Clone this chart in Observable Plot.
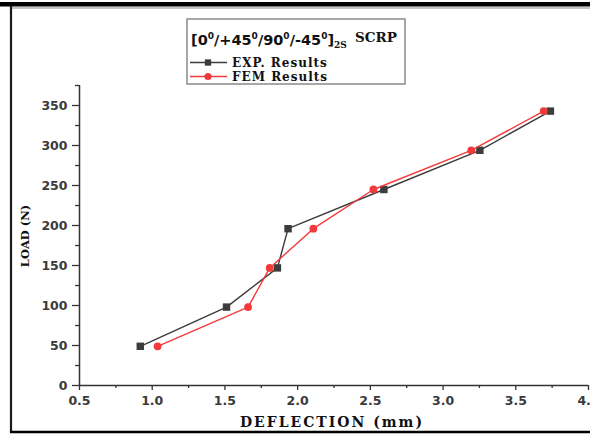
<!DOCTYPE html>
<html><head><meta charset="utf-8">
<script src="https://cdn.jsdelivr.net/npm/d3@7"></script>
<script src="https://cdn.jsdelivr.net/npm/@observablehq/plot@0.6"></script>
<style>
body{margin:0;background:#fff}
#chart{position:relative;width:590px;height:436px}
</style>
</head><body><div id="chart"></div>
<script>
// ---- data ----
const loads = [49, 98, 147, 196, 245, 294, 343];
const expDeflection = [0.918, 1.511, 1.861, 1.934, 2.593, 3.253, 3.738];
const femDeflection = [1.037, 1.659, 1.808, 2.108, 2.521, 3.194, 3.692];
const seriesNames = ["EXP. Results", "FEM Results"];
const xTicks = [0.5, 1.0, 1.5, 2.0, 2.5, 3.0, 3.5, 4.0];
const xMinorTicks = [0.75, 1.25, 1.75, 2.25, 2.75, 3.25, 3.75];
const yTicks = [0, 50, 100, 150, 200, 250, 300, 350];
const yMinorTicks = [25, 75, 125, 175, 225, 275, 325, 375];
const xLabel = "DEFLECTION (mm)";
const yLabel = "LOAD (N)";

const expData = loads.map((l, i) => ({x: expDeflection[i], y: l}));
const femData = loads.map((l, i) => ({x: femDeflection[i], y: l}));

const EXP_COLOR = "#3c3c3c";
const FEM_COLOR = "#f23a3a";
const AXIS_COLOR = "#333";

const tickFont = {fontSize: 12.5, fontFamily: "DejaVu Sans", fontWeight: "bold"};

const svg = Plot.plot({
  width: 590, height: 436,
  marginLeft: 79, marginRight: 2, marginTop: 85, marginBottom: 51,
  style: {background: "#fff", color: AXIS_COLOR, fontFamily: "DejaVu Sans"},
  x: {domain: [0.5, 4.0]},
  y: {domain: [0, 375]},
  marks: [
    Plot.axisX(xTicks, {tickSize: 5, tickPadding: 6, tickFormat: d3.format(".1f"), label: null, stroke: AXIS_COLOR, strokeWidth: 1.3, fill: "#3a3a3a", ...tickFont}),
    Plot.axisX(xMinorTicks, {tickSize: 3, tickFormat: () => "", label: null, stroke: AXIS_COLOR, strokeWidth: 1.3}),
    Plot.axisY(yTicks, {tickSize: 7, tickPadding: 5, label: null, stroke: AXIS_COLOR, strokeWidth: 1.3, fill: "#3a3a3a", ...tickFont}),
    Plot.axisY(yMinorTicks, {tickSize: 4, tickFormat: () => "", label: null, stroke: AXIS_COLOR, strokeWidth: 1.3}),
    Plot.ruleX([0.5], {stroke: AXIS_COLOR, strokeWidth: 1.5}),
    Plot.ruleY([0], {stroke: AXIS_COLOR, strokeWidth: 1.5}),
    Plot.line(expData, {x: "x", y: "y", stroke: EXP_COLOR, strokeWidth: 1.4}),
    Plot.dot(expData, {x: "x", y: "y", symbol: "square", r: 4.2, fill: EXP_COLOR, stroke: "none"}),
    Plot.line(femData, {x: "x", y: "y", stroke: FEM_COLOR, strokeWidth: 1.4}),
    Plot.dot(femData, {x: "x", y: "y", symbol: "circle", r: 3.9, fill: FEM_COLOR, stroke: "none"})
  ]
});
document.getElementById("chart").appendChild(svg);

// ---- decorations: frame, legend, axis titles ----
const s = d3.select(svg);
s.append("rect").attr("x", 0).attr("y", 2).attr("width", 590).attr("height", 4.5).attr("fill", "#000");
s.append("line").attr("x1", 11).attr("x2", 590).attr("y1", 8).attr("y2", 8).attr("stroke", "#888").attr("stroke-width", 1.2);
s.append("line").attr("x1", 11).attr("x2", 11).attr("y1", 6).attr("y2", 433).attr("stroke", "#1a1a1a").attr("stroke-width", 2.2);
s.append("line").attr("x1", 10).attr("x2", 590).attr("y1", 432).attr("y2", 432).attr("stroke", "#000").attr("stroke-width", 2.5);

// axis titles
s.append("text").attr("x", 332).attr("y", 427).attr("text-anchor", "middle")
  .attr("font-family", "DejaVu Serif").attr("font-weight", "bold").attr("font-size", 14)
  .attr("letter-spacing", 2).attr("fill", "#111").text(xLabel);
s.append("text").attr("transform", "translate(29,236) rotate(-90)").attr("text-anchor", "middle")
  .attr("font-family", "DejaVu Serif").attr("font-weight", "bold").attr("font-size", 11.5)
  .attr("fill", "#111").text(yLabel);

// legend box
s.append("rect").attr("x", 187).attr("y", 19).attr("width", 218).attr("height", 65)
  .attr("fill", "#fff").attr("stroke", "#8a8a8a").attr("stroke-width", 1.5);
const title = s.append("text").attr("x", 191).attr("y", 45).attr("fill", "#111")
  .attr("text-anchor", "start")
  .attr("font-family", "DejaVu Sans").attr("font-weight", "bold").attr("font-size", 14.5);
const parts = ["[0", "/+45", "/90", "/-45"];
parts.forEach((t, i) => {
  title.append("tspan").attr("dy", i === 0 ? 0 : 6).text(t);
  title.append("tspan").attr("font-size", 9).attr("dy", -6).text("0");
});
title.append("tspan").attr("dy", 6).text("]");
title.append("tspan").attr("font-family", "DejaVu Serif").attr("font-size", 9).attr("dy", 3).text("2S");
s.append("text").attr("x", 355).attr("y", 42).attr("fill", "#111").attr("text-anchor", "start")
  .attr("font-family", "DejaVu Serif").attr("font-weight", "bold").attr("font-size", 13.5).text("SCRP");

const entries = [
  {name: seriesNames[0], color: EXP_COLOR, sym: d3.symbolSquare, y: 62.5},
  {name: seriesNames[1], color: FEM_COLOR, sym: d3.symbolCircle, y: 76.5}
];
entries.forEach(e => {
  s.append("line").attr("x1", 190).attr("x2", 227).attr("y1", e.y).attr("y2", e.y)
    .attr("stroke", e.color).attr("stroke-width", 1.4);
  s.append("path").attr("d", d3.symbol(e.sym, 40)()).attr("transform", `translate(208,${e.y})`).attr("fill", e.color);
  s.append("text").attr("x", 232).attr("y", e.y + 4.3).attr("fill", "#111").attr("text-anchor", "start")
    .attr("font-family", "DejaVu Serif").attr("font-weight", "bold").attr("font-size", 12)
    .attr("letter-spacing", 1).text(e.name);
});
</script>
</body></html>
